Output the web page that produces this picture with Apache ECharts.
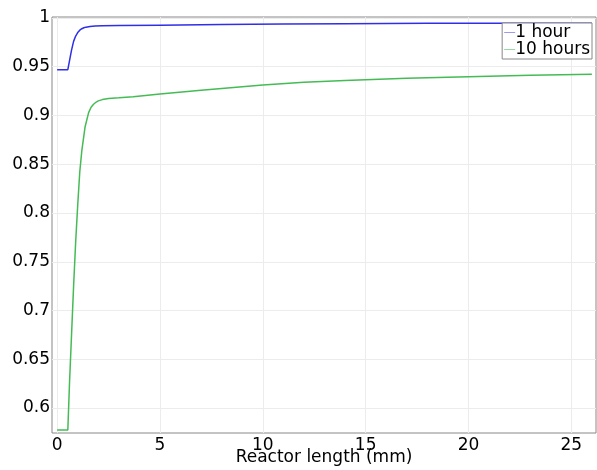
<!DOCTYPE html>
<html>
<head>
<meta charset="utf-8">
<script src="https://cdn.jsdelivr.net/npm/echarts@6/dist/echarts.min.js"></script>
<style>
  html, body { margin: 0; padding: 0; background: #fff; }
  #chart { width: 597px; height: 470px; }
</style>
</head>
<body>
<div id="chart"></div>
<script>
// values
const seriesNames = ['1 hour', '10 hours'];

const hour1X = [0, 0.52, 0.6, 0.7, 0.8, 0.9, 1.0, 1.1, 1.2, 1.3, 1.4, 1.6, 1.85, 2.2, 3, 5, 8, 11, 14, 18, 22, 26];
const hour1Y = [0.947, 0.947, 0.956, 0.967, 0.976, 0.9815, 0.985, 0.9875, 0.989, 0.99, 0.9906, 0.9913, 0.9918,
  0.992, 0.9922, 0.9926, 0.9932, 0.9938, 0.9942, 0.9945, 0.9946, 0.9947];

const hour10X = [0, 0.52, 0.6, 0.7, 0.8, 0.9, 1.0, 1.1, 1.2, 1.36, 1.53, 1.65, 1.77, 1.9, 2.0, 2.2, 2.5, 3.0,
  3.7, 5, 7, 10, 12, 14, 17, 20, 23, 26];
const hour10Y = [0.5774, 0.5774, 0.625, 0.675, 0.725, 0.77, 0.808, 0.842, 0.864, 0.8885, 0.903, 0.9085, 0.9115,
  0.9138, 0.915, 0.9163, 0.9175, 0.9182, 0.9193, 0.922, 0.926, 0.9313, 0.934, 0.936, 0.9382, 0.9398, 0.9412, 0.9423];

const xTicks = [0, 5, 10, 15, 20, 25];
const yTicks = [0.6, 0.65, 0.7, 0.75, 0.8, 0.85, 0.9, 0.95, 1];

const zip = (xs, ys) => xs.map((x, i) => [x, ys[i]]);

const font = 'DejaVu Sans';
const chart = echarts.init(document.getElementById('chart'));

chart.setOption({
  animation: false,
  backgroundColor: '#fff',
  grid: {
    left: 52, right: 1, top: 17, bottom: 37,
    containLabel: false, outerBoundsMode: 'none',
    show: true, borderColor: '#888', borderWidth: 1
  },
  legend: {
    orient: 'vertical',
    right: 5, top: 23,
    backgroundColor: '#fff',
    borderColor: '#888', borderWidth: 1, borderRadius: 0,
    padding: [1, 2, 1, 2],
    itemGap: 0,
    itemWidth: 11, itemHeight: 1,
    icon: 'rect',
    textStyle: { fontFamily: font, fontSize: 17, lineHeight: 16, color: '#000', padding: [0, 0, 0, -5] },
    data: seriesNames.map((n, i) => ({ name: n, itemStyle: { color: i === 0 ? '#9a9af2' : '#98d8a2' } }))
  },
  xAxis: {
    type: 'value',
    min: -0.25, max: 26.2,
    name: 'Reactor length (mm)',
    nameLocation: 'middle',
    nameGap: 16,
    nameMoveOverlap: false,
    nameTextStyle: { fontFamily: font, fontSize: 17, color: '#000' },
    axisLine: { show: false },
    axisTick: { show: false, customValues: xTicks },
    axisLabel: { customValues: xTicks, fontFamily: font, fontSize: 17, color: '#000', margin: 4 },
    splitLine: { show: true, lineStyle: { color: '#ececec', width: 1 } }
  },
  yAxis: {
    type: 'value',
    min: 0.5744, max: 1.001,
    axisLine: { show: false },
    axisTick: { show: false, customValues: yTicks },
    axisLabel: { customValues: yTicks, fontFamily: font, fontSize: 17, color: '#000', margin: 2 },
    splitLine: { show: true, lineStyle: { color: '#ececec', width: 1 } }
  },
  series: [
    {
      name: seriesNames[0], type: 'line', showSymbol: false, smooth: false,
      lineStyle: { color: '#2f2fe6', width: 1.5 }, itemStyle: { color: '#2f2fe6' },
      data: zip(hour1X, hour1Y)
    },
    {
      name: seriesNames[1], type: 'line', showSymbol: false, smooth: false,
      lineStyle: { color: '#45bb55', width: 1.5 }, itemStyle: { color: '#45bb55' },
      data: zip(hour10X, hour10Y)
    }
  ]
});
</script>
</body>
</html>
